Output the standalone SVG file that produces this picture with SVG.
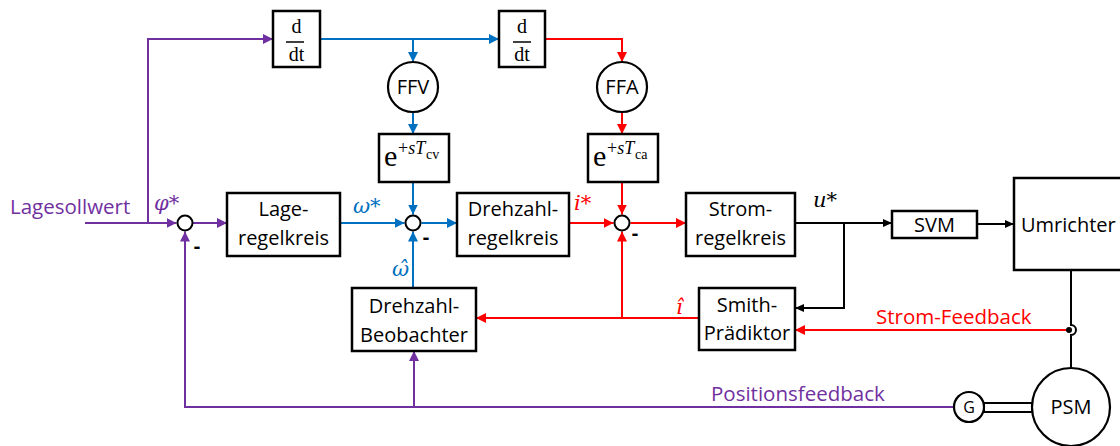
<svg xmlns="http://www.w3.org/2000/svg" width="1120" height="446" viewBox="0 0 1120 446">
<style>
.box{fill:#fff;stroke:#000;stroke-width:2.5}
.cir{fill:#fff;stroke:#000;stroke-width:2.2}
.sum{fill:#fff;stroke:#000;stroke-width:2}
.t{font-family:"Open Sans",sans-serif;font-size:20px;text-anchor:middle;fill:#000}
.lab{font-family:"Open Sans",sans-serif;font-size:20.5px}
.m{font-family:"DejaVu Serif","Liberation Serif",serif;font-style:italic;font-size:21px}
.s{font-family:"Liberation Serif",serif;fill:#000}
.ln{fill:none;stroke-width:2}
.p{stroke:#7030A0}.b{stroke:#0070C0}.r{stroke:#FF0000}.k{stroke:#000}
.minus{font-family:"Open Sans",sans-serif;font-size:20px;font-weight:bold;text-anchor:middle;fill:#000}
</style>
<defs>
<marker id="ap" markerUnits="userSpaceOnUse" markerWidth="10" markerHeight="10" refX="10" refY="5" orient="auto"><path d="M0,0L10,5L0,10z" fill="#7030A0"/></marker>
<marker id="ab" markerUnits="userSpaceOnUse" markerWidth="10" markerHeight="10" refX="10" refY="5" orient="auto"><path d="M0,0L10,5L0,10z" fill="#0070C0"/></marker>
<marker id="ar" markerUnits="userSpaceOnUse" markerWidth="10" markerHeight="10" refX="10" refY="5" orient="auto"><path d="M0,0L10,5L0,10z" fill="#FF0000"/></marker>
<marker id="ak" markerUnits="userSpaceOnUse" markerWidth="9" markerHeight="8" refX="9" refY="4" orient="auto"><path d="M0,0L9,4L0,8z" fill="#000"/></marker>
</defs>

<g id="connectors">
<path class="ln p" d="M85,223H176.5" marker-end="url(#ap)"/>
<path class="ln p" d="M148,223V39H273" marker-end="url(#ap)"/>
<path class="ln p" d="M193,223H227" marker-end="url(#ap)"/>
<path class="ln p" d="M954,407H185V231.5" marker-end="url(#ap)"/>
<path class="ln p" d="M414,407V351" marker-end="url(#ap)"/>
<path class="ln b" d="M340,223H404.5" marker-end="url(#ab)"/>
<path class="ln b" d="M421.5,223H457" marker-end="url(#ab)"/>
<path class="ln b" d="M320,39H499" marker-end="url(#ab)"/>
<path class="ln b" d="M413,39V62" marker-end="url(#ab)"/>
<path class="ln b" d="M413,112V134" marker-end="url(#ab)"/>
<path class="ln b" d="M413,182V214.5" marker-end="url(#ab)"/>
<path class="ln b" d="M413,288V231.5" marker-end="url(#ab)"/>
<path class="ln r" d="M545,39H622V62" marker-end="url(#ar)"/>
<path class="ln r" d="M622,112V134" marker-end="url(#ar)"/>
<path class="ln r" d="M622,182V214.5" marker-end="url(#ar)"/>
<path class="ln r" d="M569,223H613.5" marker-end="url(#ar)"/>
<path class="ln r" d="M630.5,223H686" marker-end="url(#ar)"/>
<path class="ln r" d="M699,318H476" marker-end="url(#ar)"/>
<path class="ln r" d="M622,318V231.5" marker-end="url(#ar)"/>
<path class="ln r" d="M1068,330H795" marker-end="url(#ar)"/>
<path class="ln k" d="M795,223H892" marker-end="url(#ak)"/>
<path class="ln k" d="M844,223V308H795" marker-end="url(#ak)"/>
<path class="ln k" d="M977,224H1014" marker-end="url(#ak)"/>
<path class="ln k" d="M1071,270V325A5,5 0 0 1 1071,335V368"/>
<circle cx="1069" cy="330" r="3" fill="#000"/>
<rect x="984" y="403" width="48" height="9" fill="#fff" stroke="#000" stroke-width="2"/>
</g>

<g id="labels">
<text class="lab" x="10" y="214" fill="#7030A0">Lagesollwert</text>
<text class="lab" x="711" y="401" fill="#7030A0">Positionsfeedback</text>
<text class="lab" x="876" y="324" fill="#FF0000">Strom-Feedback</text>
<text class="m" x="154" y="210" fill="#7030A0">φ*</text>
<text class="m" x="353" y="213" fill="#0070C0">ω*</text>
<text class="m" x="574" y="210" fill="#FF0000">i*</text>
<text class="m" x="813" y="207" fill="#000">u*</text>
<text class="m" x="392" y="276" fill="#0070C0">ω̂</text>
<text class="m" x="676" y="314" fill="#FF0000">î</text>
<text class="minus" x="197" y="253">-</text>
<text class="minus" x="426" y="244">-</text>
<text class="minus" x="635" y="240">-</text>
</g>

<g id="sum1"><circle class="sum" cx="185" cy="223" r="7.5"/></g>
<g id="sum2"><circle class="sum" cx="413" cy="223" r="7.5"/></g>
<g id="sum3"><circle class="sum" cx="622" cy="223" r="7.5"/></g>

<g id="ddt1">
<rect class="box" x="273" y="11" width="47" height="56"/>
<text class="s" x="296.5" y="33" font-size="20" text-anchor="middle">d</text>
<line x1="286" y1="42" x2="304" y2="42" stroke="#000" stroke-width="1.5"/>
<text class="s" x="296.5" y="61" font-size="20" text-anchor="middle">dt</text>
</g>
<g id="ddt2">
<rect class="box" x="499" y="11" width="46" height="56"/>
<text class="s" x="522" y="33" font-size="20" text-anchor="middle">d</text>
<line x1="513" y1="42" x2="531" y2="42" stroke="#000" stroke-width="1.5"/>
<text class="s" x="522" y="61" font-size="20" text-anchor="middle">dt</text>
</g>

<g id="ffv"><circle class="cir" cx="413" cy="87" r="25"/><text class="t" x="413" y="94">FFV</text></g>
<g id="ffa"><circle class="cir" cx="622" cy="87" r="25"/><text class="t" x="622" y="94">FFA</text></g>

<g id="delay-cv">
<rect class="box" x="379" y="134" width="70" height="48"/>
<text class="s" x="384" y="166" font-size="30">e</text>
<text class="s" x="398" y="154" font-size="18">+<tspan font-style="italic">sT</tspan></text>
<text class="s" x="426" y="159" font-size="14">cv</text>
</g>
<g id="delay-ca">
<rect class="box" x="588" y="134" width="70" height="48"/>
<text class="s" x="593" y="166" font-size="30">e</text>
<text class="s" x="607" y="154" font-size="18">+<tspan font-style="italic">sT</tspan></text>
<text class="s" x="635" y="159" font-size="14">ca</text>
</g>

<g id="lage"><rect class="box" x="227" y="193" width="113" height="63"/><text class="t" x="283.5" y="216">Lage-</text><text class="t" x="283.5" y="245">regelkreis</text></g>
<g id="drehzahl"><rect class="box" x="457" y="193" width="112" height="63"/><text class="t" x="513" y="216">Drehzahl-</text><text class="t" x="513" y="245">regelkreis</text></g>
<g id="strom"><rect class="box" x="686" y="193" width="109" height="63"/><text class="t" x="740.5" y="216">Strom-</text><text class="t" x="740.5" y="245">regelkreis</text></g>
<g id="svm"><rect class="box" x="892" y="211" width="85" height="27"/><text class="t" x="934.5" y="232">SVM</text></g>
<g id="umrichter"><rect class="box" x="1014" y="178" width="116" height="92"/><text class="t" x="1021" y="232" style="text-anchor:start">Umrichter</text></g>
<g id="beobachter"><rect class="box" x="352" y="288" width="124" height="63"/><text class="t" x="414" y="313">Drehzahl-</text><text class="t" x="414" y="342">Beobachter</text></g>
<g id="smith"><rect class="box" x="699" y="288" width="96" height="62"/><text class="t" x="747" y="312">Smith-</text><text class="t" x="747" y="340">Prädiktor</text></g>
<g id="geber"><circle class="cir" cx="969" cy="407" r="15"/><text class="t" x="969" y="413" style="font-size:16px">G</text></g>
<g id="psm"><circle class="cir" cx="1071" cy="407" r="39"/><text class="t" x="1071" y="414">PSM</text></g>
</svg>
